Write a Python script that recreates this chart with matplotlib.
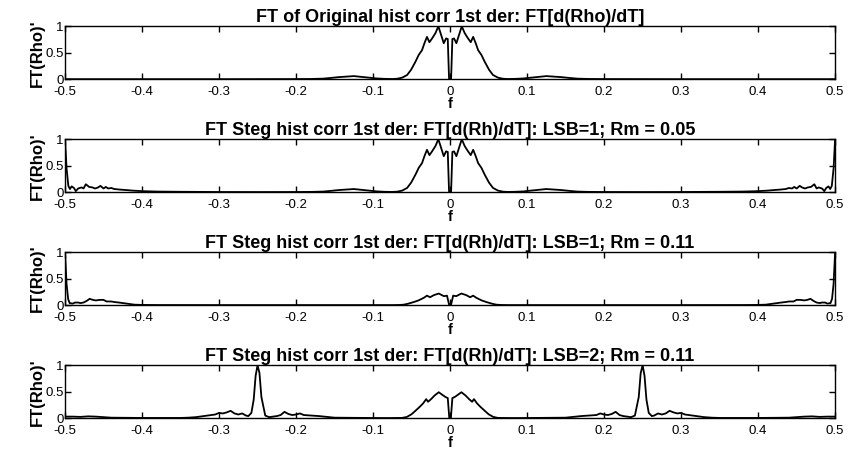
import numpy as np
import matplotlib.pyplot as plt

plt.rcParams['font.family'] = ['Liberation Sans', 'DejaVu Sans']

# positive-frequency halves; spectra are symmetric about f = 0
f1 = [0, 0.0013, 0.003, 0.0052, 0.0082, 0.0117, 0.0152, 0.019, 0.0234, 0.0268,
      0.030, 0.0333, 0.0364, 0.0407, 0.045, 0.0506, 0.0558, 0.0623, 0.0688, 0.075,
      0.085, 0.095, 0.105, 0.115, 0.125, 0.135, 0.145, 0.155, 0.165, 0.18,
      0.2, 0.25, 0.3, 0.35, 0.4, 0.45, 0.5]
a1 = [0, 0, 0.76, 0.77, 0.68, 0.84, 1.0, 0.87, 0.77, 0.70,
      0.80, 0.68, 0.55, 0.46, 0.33, 0.18, 0.08, 0.03, 0.01, 0.005,
      0.008, 0.015, 0.03, 0.045, 0.06, 0.05, 0.04, 0.025, 0.012, 0.006,
      0.004, 0.003, 0.002, 0.002, 0.002, 0.002, 0.002]

f2 = [0, 0.0013, 0.003, 0.0052, 0.0082, 0.0117, 0.0152, 0.019, 0.0234, 0.0268,
      0.030, 0.0333, 0.0364, 0.0407, 0.045, 0.0506, 0.0558, 0.0623, 0.0688, 0.075,
      0.085, 0.095, 0.105, 0.115, 0.125, 0.135, 0.145, 0.155, 0.165, 0.18,
      0.2, 0.25, 0.3, 0.35, 0.38, 0.40, 0.412, 0.42, 0.429, 0.436,
      0.44, 0.444, 0.447, 0.45, 0.454, 0.457, 0.461, 0.4644, 0.4687, 0.473,
      0.476, 0.4785, 0.483, 0.486, 0.4884, 0.4914, 0.4936, 0.4957, 0.498, 0.5]
a2 = [0, 0, 0.76, 0.77, 0.68, 0.84, 1.0, 0.87, 0.77, 0.70,
      0.80, 0.68, 0.55, 0.46, 0.33, 0.18, 0.08, 0.03, 0.01, 0.005,
      0.008, 0.015, 0.03, 0.045, 0.06, 0.05, 0.04, 0.025, 0.012, 0.006,
      0.004, 0.003, 0.004, 0.008, 0.012, 0.02, 0.03, 0.04, 0.05, 0.06,
      0.08, 0.07, 0.10, 0.07, 0.12, 0.09, 0.07, 0.09, 0.10, 0.15,
      0.07, 0.09, 0.07, 0.02, 0.08, 0.11, 0.06, 0.12, 0.45, 1.0]

f3 = [0, 0.0013, 0.004, 0.008, 0.0147, 0.021, 0.026, 0.030, 0.034, 0.041,
      0.047, 0.054, 0.060, 0.066, 0.075, 0.1, 0.2, 0.3, 0.38, 0.40,
      0.41, 0.42, 0.43, 0.436, 0.44, 0.446, 0.45, 0.455, 0.46, 0.464,
      0.468, 0.472, 0.476, 0.48, 0.483, 0.487, 0.49, 0.494, 0.496, 0.498, 0.5]
a3 = [0.01, 0.01, 0.18, 0.17, 0.22, 0.19, 0.15, 0.18, 0.14, 0.09,
      0.06, 0.03, 0.01, 0.004, 0.002, 0.002, 0.002, 0.002, 0.003, 0.005,
      0.01, 0.03, 0.05, 0.06, 0.07, 0.07, 0.10, 0.10, 0.09, 0.10,
      0.12, 0.08, 0.05, 0.04, 0.05, 0.05, 0.03, 0.04, 0.12, 0.40, 1.0]

f4 = [0, 0.001, 0.003, 0.006, 0.009, 0.0147, 0.02, 0.0247, 0.0286, 0.031,
      0.035, 0.039, 0.045, 0.05, 0.056, 0.062, 0.08, 0.1, 0.15, 0.17,
      0.18, 0.19, 0.195, 0.2, 0.205, 0.21, 0.215, 0.22, 0.225, 0.23,
      0.235, 0.24, 0.245, 0.2475, 0.25, 0.2525, 0.255, 0.258, 0.262, 0.265,
      0.27, 0.275, 0.28, 0.285, 0.29, 0.295, 0.3, 0.305, 0.31, 0.32,
      0.33, 0.34, 0.35, 0.4, 0.44, 0.46, 0.47, 0.48, 0.49, 0.5]
a4 = [0, 0, 0.38, 0.40, 0.43, 0.49, 0.43, 0.36, 0.31, 0.36,
      0.28, 0.22, 0.14, 0.075, 0.025, 0.006, 0.003, 0.004, 0.01, 0.04,
      0.05, 0.06, 0.09, 0.07, 0.06, 0.08, 0.12, 0.06, 0.04, 0.03,
      0.02, 0.05, 0.4, 0.85, 1.0, 0.8, 0.35, 0.1, 0.04, 0.05,
      0.09, 0.07, 0.09, 0.14, 0.11, 0.09, 0.10, 0.07, 0.06, 0.04,
      0.02, 0.01, 0.005, 0.005, 0.01, 0.03, 0.035, 0.025, 0.03, 0.03]

titles = [
    "FT of Original hist corr 1st der: FT[d(Rho)/dT]",
    "FT Steg hist corr 1st der: FT[d(Rh)/dT]: LSB=1; Rm = 0.05",
    "FT Steg hist corr 1st der: FT[d(Rh)/dT]: LSB=1; Rm = 0.11",
    "FT Steg hist corr 1st der: FT[d(Rh)/dT]: LSB=2; Rm = 0.11",
]
xticks = [-0.5, -0.4, -0.3, -0.2, -0.1, 0, 0.1, 0.2, 0.3, 0.4, 0.5]
xticklabels = ["-0.5", "-0.4", "-0.3", "-0.2", "-0.1", "0", "0.1", "0.2", "0.3", "0.4", "0.5"]
yticks = [0, 0.5, 1]
yticklabels = ["0", "0.5", "1"]


def mirror(f, a):
    f = np.asarray(f)
    a = np.asarray(a)
    return np.concatenate([-f[::-1], f[1:]]), np.concatenate([a[::-1], a[1:]])


fig = plt.figure(figsize=(8.5, 4.53), dpi=100)
bottoms = [0.825, 0.5757, 0.3263, 0.0768]
series = [(f1, a1), (f2, a2), (f3, a3), (f4, a4)]

for i, (f, a) in enumerate(series):
    ax = fig.add_axes([0.0765, bottoms[i], 0.906, 0.117])
    x, y = mirror(f, a)
    ax.plot(x, y, color='black', lw=1.3)
    ax.set_xlim(-0.5, 0.5)
    ax.set_ylim(0, 1)
    ax.set_xticks(xticks)
    ax.set_xticklabels(xticklabels)
    ax.set_yticks(yticks)
    ax.set_yticklabels(yticklabels)
    ax.tick_params(direction='in', top=True, right=True, length=4, width=1,
                   labelsize=9.5)
    ax.tick_params(axis='x', pad=5)
    ax.tick_params(axis='y', pad=1)
    for s in ax.spines.values():
        s.set_linewidth(1)
    ax.set_title(titles[i], fontsize=13, fontweight='bold', pad=3)
    ax.set_xlabel('f', fontsize=10.5, fontweight='bold', labelpad=-1)
    ax.set_ylabel("FT(Rho)'", fontsize=12, fontweight='bold', labelpad=0)

fig.savefig('out.png', dpi=100)
